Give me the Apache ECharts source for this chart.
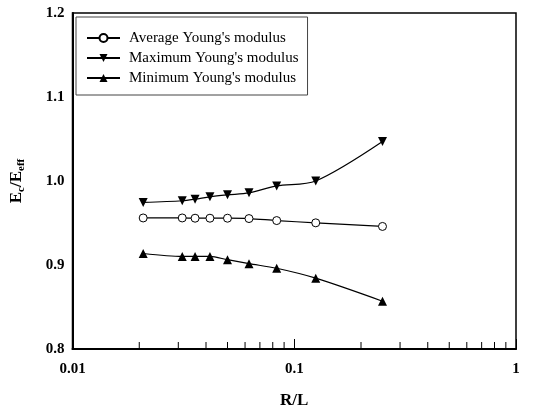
<!DOCTYPE html>
<html>
<head>
<meta charset="utf-8">
<script src="https://cdn.jsdelivr.net/npm/echarts@6/dist/echarts.min.js"></script>
<style>html,body{margin:0;padding:0;background:#fff}#c{width:554px;height:414px}</style>
</head>
<body>
<div id="c"></div>
<script>
// R/L values
const rl = [1/48, 1/32, 1/28, 1/24, 1/20, 1/16, 1/12, 1/8, 1/4];
const avgE = [0.956, 0.956, 0.9557, 0.9557, 0.9557, 0.9553, 0.9529, 0.9502, 0.9459];
const maxE = [0.9745, 0.9765, 0.9784, 0.9812, 0.9835, 0.9859, 0.9941, 1.0, 1.047];
const minE = [0.9137, 0.9102, 0.9102, 0.9102, 0.9063, 0.9016, 0.8961, 0.8843, 0.8569];
const seriesNames = ["Average Young's modulus", "Maximum Young's modulus", "Minimum Young's modulus"];
const xMinorTicks = [0.02, 0.03, 0.04, 0.05, 0.06, 0.07, 0.08, 0.09, 0.2, 0.3, 0.4, 0.5, 0.6, 0.7, 0.8, 0.9];
const yMin = 0.8, yMax = 1.2, yStep = 0.1;

const font = '"Liberation Serif", "Times New Roman", serif';
const pair = (ys) => rl.map((x, i) => [x, ys[i]]);

const chart = echarts.init(document.getElementById('c'));
chart.setOption({
  animation: false,
  backgroundColor: '#fff',
  grid: { left: 70, right: 38, top: 13, bottom: 61, show: true, borderColor: '#000', borderWidth: 1.5 },
  legend: {
    orient: 'vertical', left: 76, top: 17,
    data: seriesNames,
    itemWidth: 33, itemHeight: 10, itemGap: 0,
    padding: [11, 9, 7, 10],
    borderColor: '#444', borderWidth: 1,
    textStyle: { fontFamily: font, fontSize: 15, color: '#000', lineHeight: 20, padding: [0, 0, 0, 4] }
  },
  xAxis: {
    type: 'log', logBase: 10, min: 0.01, max: 1,
    name: 'R/L', nameLocation: 'middle', nameGap: 43,
    nameTextStyle: { fontFamily: font, fontSize: 17, fontWeight: 'bold', color: '#000' },
    axisLine: { lineStyle: { color: '#000', width: 2 } },
    axisTick: { show: true, inside: true, length: 10, lineStyle: { color: '#000' } },
    axisLabel: { fontFamily: font, fontSize: 15, fontWeight: 'bold', color: '#000', margin: 13,
      formatter: v => (v >= 1 ? '1' : String(+v.toPrecision(1))) },
    splitLine: { show: false }
  },
  yAxis: {
    type: 'value', min: yMin, max: yMax, interval: yStep,
    name: 'E{s|c}/E{s|eff}', nameLocation: 'middle', nameGap: 46,
    nameTextStyle: { fontFamily: font, fontSize: 17, fontWeight: 'bold', color: '#000',
      rich: { s: { fontFamily: font, fontSize: 11, fontWeight: 'bold', color: '#000', padding: [9, 0, 0, 0] } } },
    axisLine: { lineStyle: { color: '#000', width: 2 } },
    axisTick: { show: false },
    axisLabel: { fontFamily: font, fontSize: 15, fontWeight: 'bold', color: '#000', margin: 8,
      formatter: v => v.toFixed(1) },
    splitLine: { show: false }
  },
  series: [
    { name: seriesNames[0], type: 'line', data: pair(avgE), smooth: 0.3,
      symbol: 'circle', symbolSize: 8,
      lineStyle: { color: '#000', width: 1.2 },
      itemStyle: { color: '#fff', borderColor: '#000', borderWidth: 1 } },
    { name: seriesNames[1], type: 'line', data: pair(maxE), smooth: 0.3,
      symbol: 'triangle', symbolRotate: 180, symbolSize: 9,
      lineStyle: { color: '#000', width: 1.2 },
      itemStyle: { color: '#000' } },
    { name: seriesNames[2], type: 'line', data: pair(minE), smooth: 0.3,
      symbol: 'triangle', symbolSize: 9,
      lineStyle: { color: '#000', width: 1.2 },
      itemStyle: { color: '#000' } },
    { type: 'custom', silent: true, data: xMinorTicks.map(v => [v, yMin]),
      renderItem: (params, api) => {
        const p = api.coord([api.value(0), api.value(1)]);
        return { type: 'line', shape: { x1: p[0], y1: p[1], x2: p[0], y2: p[1] - 7 },
          style: { stroke: '#000', lineWidth: 1 } };
      } }
  ]
});
</script>
</body>
</html>
